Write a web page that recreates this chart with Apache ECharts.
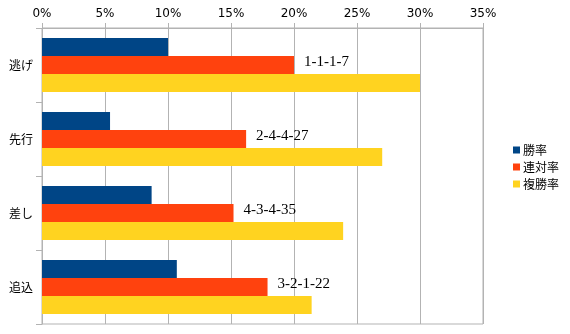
<!DOCTYPE html>
<html><head><meta charset="utf-8">
<script src="https://cdn.jsdelivr.net/npm/echarts@6/dist/echarts.min.js"></script>
<style>html,body{margin:0;padding:0;background:#fff}#c{width:570px;height:334px}</style>
</head><body><div id="c"></div>
<script>
const categories = ['逃げ', '先行', '差し', '追込'];
const records = ['1-1-1-7', '2-4-4-27', '4-3-4-35', '3-2-1-22'];
const winRate = [10.0, 5.4, 8.7, 10.7];
const quinellaRate = [20.0, 16.2, 15.2, 17.9];
const showRate = [30.0, 27.0, 23.9, 21.4];
const xTicks = [0, 5, 10, 15, 20, 25, 30, 35];

const chart = echarts.init(document.getElementById('c'));
const jp = '"Noto Sans CJK JP", "DejaVu Sans", sans-serif';
chart.setOption({
  animation: false,
  grid: { left: 42, right: 87, top: 28, bottom: 10, show: true, borderColor: '#b3b3b3', borderWidth: 1 },
  legend: {
    orient: 'vertical', left: 508, top: 139,
    icon: 'rect', itemWidth: 7, itemHeight: 7, itemGap: 5,
    textStyle: { fontSize: 12, color: '#000', fontFamily: jp, padding: [0, 0, 0, -2] },
    data: ['勝率', '連対率', '複勝率']
  },
  xAxis: {
    type: 'value', position: 'top', min: xTicks[0], max: xTicks[xTicks.length - 1], interval: 5,
    axisLine: { show: true, lineStyle: { color: '#b3b3b3' } },
    axisTick: { show: true, length: 5, lineStyle: { color: '#b3b3b3' } },
    splitLine: { show: true, lineStyle: { color: '#b3b3b3' } },
    axisLabel: { formatter: v => v + '%', fontSize: 12, color: '#000', fontFamily: '"DejaVu Sans", sans-serif', margin: 8 }
  },
  yAxis: {
    type: 'category', data: categories, inverse: true,
    axisLine: { show: true, lineStyle: { color: '#b3b3b3' } },
    axisTick: { show: true, length: 6, lineStyle: { color: '#b3b3b3' } },
    axisLabel: { fontSize: 12, color: '#000', fontFamily: jp, margin: 9 }
  },
  series: [
    { name: '勝率', type: 'bar', data: winRate, barWidth: 18, barGap: '0%', itemStyle: { color: '#004586' } },
    { name: '連対率', type: 'bar', data: quinellaRate, barWidth: 18, barGap: '0%', itemStyle: { color: '#ff420e' },
      label: { show: true, position: 'right', distance: 10, formatter: p => records[p.dataIndex],
        fontSize: 15, color: '#000', fontFamily: '"Liberation Serif", "DejaVu Serif", serif', offset: [0, -3] } },
    { name: '複勝率', type: 'bar', data: showRate, barWidth: 18, barGap: '0%', itemStyle: { color: '#ffd320' } }
  ]
});
</script></body></html>
